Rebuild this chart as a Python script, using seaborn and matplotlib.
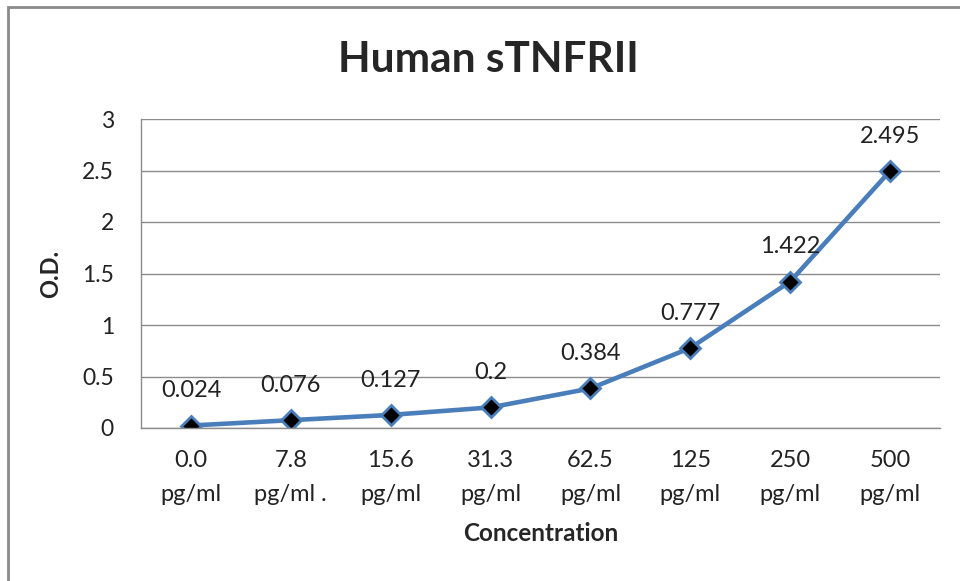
import matplotlib
matplotlib.use("Agg")
import matplotlib.pyplot as plt
from matplotlib.patches import Rectangle
from matplotlib.ticker import FixedLocator
import seaborn as sns
import pandas as pd

# chart data
concentrations = ["0.0\npg/ml", "7.8\npg/ml .", "15.6\npg/ml", "31.3\npg/ml",
                  "62.5\npg/ml", "125\npg/ml", "250\npg/ml", "500\npg/ml"]
od_values = [0.024, 0.076, 0.127, 0.2, 0.384, 0.777, 1.422, 2.495]
od_labels = ["0.024", "0.076", "0.127", "0.2", "0.384", "0.777", "1.422", "2.495"]
y_ticks = [0, 0.5, 1, 1.5, 2, 2.5, 3]
y_tick_labels = ["0", "0.5", "1", "1.5", "2", "2.5", "3"]

sns.set_theme(style="white")
plt.rcParams['font.family'] = ['Lato', 'DejaVu Sans']

df = pd.DataFrame({'conc': concentrations, 'od': od_values})

line_blue = '#4a7ebb'
grid_gray = '#8c8c8c'
text_col = '#222222'

fig = plt.figure(figsize=(9.6, 5.81), dpi=100)
ax = fig.add_axes([141/960, 1 - 428/581, (940 - 141)/960, (428 - 119)/581])

sns.lineplot(data=df, x='conc', y='od', ax=ax, color=line_blue, linewidth=3.3,
             marker='D', markersize=10, markerfacecolor='black',
             markeredgecolor=line_blue, markeredgewidth=2, sort=False)

# data labels above each point
for i, (v, lab) in enumerate(zip(od_values, od_labels)):
    ax.annotate(lab, (i, v), xytext=(0, 25), textcoords='offset points',
                ha='center', va='center', fontsize=17, color=text_col)

ax.set_xlim(-0.5, len(concentrations) - 0.5)
ax.set_ylim(0, 3)
ax.set_yticks(y_ticks)
ax.set_yticklabels(y_tick_labels)
ax.yaxis.grid(True, color=grid_gray, linewidth=1)
ax.set_axisbelow(True)

# category boundaries get the tick marks, labels sit in between
ax.xaxis.set_minor_locator(FixedLocator([i - 0.5 for i in range(len(concentrations) + 1)]))
ax.tick_params(axis='x', which='major', length=0, pad=16, labelsize=17, colors=text_col)
ax.tick_params(axis='x', which='minor', length=6, width=1, color=grid_gray, direction='out')
ax.tick_params(axis='y', which='major', length=6.5, width=1, color=grid_gray, direction='out',
               pad=13, labelsize=16.5, labelcolor=text_col)
for t in ax.get_xticklabels():
    t.set_linespacing(1.75)

for side in ['top', 'right']:
    ax.spines[side].set_visible(False)
for side in ['left', 'bottom']:
    ax.spines[side].set_color(grid_gray)
    ax.spines[side].set_linewidth(1)

ax.set_xlabel('Concentration', fontsize=17.5, fontweight='bold', labelpad=12)
ax.set_ylabel('O.D.', fontsize=17, fontweight='bold', labelpad=14)

fig.text(488/960, 1 - 60/581, 'Human sTNFRII', ha='center', va='center',
         fontsize=30.5, fontweight='bold')

# outer chart border (top and left edges visible)
fig.patches.append(Rectangle((8/960, -0.05), 1.0, 1 - 7.5/581 + 0.05,
                             transform=fig.transFigure, fill=False,
                             edgecolor='#8a8a8a', linewidth=2))

fig.savefig('out.png', dpi=100)
